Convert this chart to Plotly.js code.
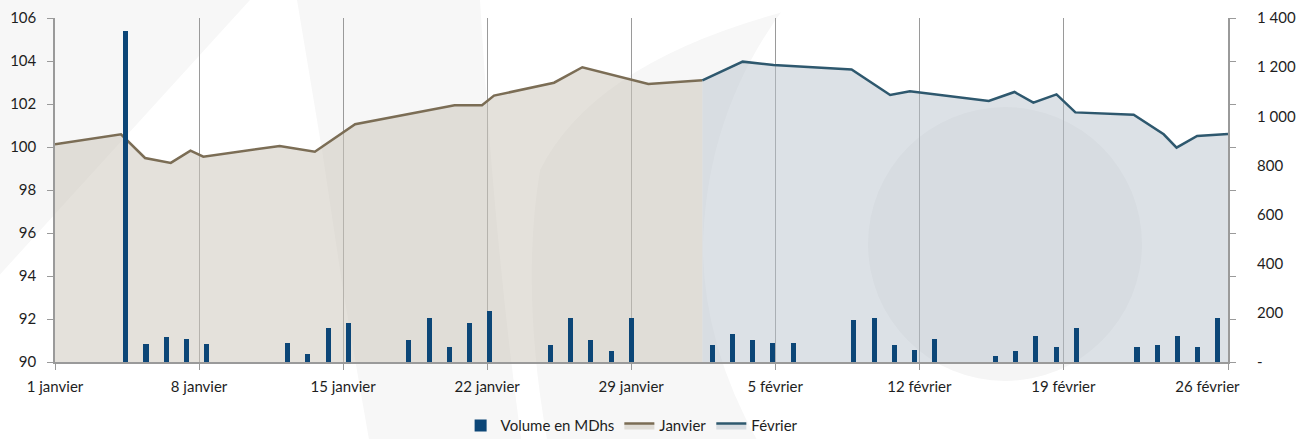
<!DOCTYPE html>
<html>
<head>
<meta charset="utf-8">
<script src="https://cdn.plot.ly/plotly-3.0.1.min.js"></script>
<style>html,body{margin:0;padding:0;background:#f7f7f7;overflow:hidden}</style>
</head>
<body>
<div id="chart" style="width:1311px;height:439px"></div>
<script>
// ---- Data ----
// Volume traded (MDhs), trading days
const volumeDates = [
  '2016-01-04','2016-01-05','2016-01-06','2016-01-07','2016-01-08',
  '2016-01-12','2016-01-13','2016-01-14','2016-01-15',
  '2016-01-18','2016-01-19','2016-01-20','2016-01-21','2016-01-22',
  '2016-01-25','2016-01-26','2016-01-27','2016-01-28','2016-01-29',
  '2016-02-01','2016-02-02','2016-02-03','2016-02-04','2016-02-05',
  '2016-02-08','2016-02-09','2016-02-10','2016-02-11','2016-02-12',
  '2016-02-15','2016-02-16','2016-02-17','2016-02-18','2016-02-19',
  '2016-02-22','2016-02-23','2016-02-24','2016-02-25','2016-02-26'
];
const volumeValues = [
  1347, 73, 102, 94, 73,
  77, 33, 138, 159,
  90, 179, 61, 159, 208,
  69, 179, 90, 45, 179,
  69, 114, 90, 77, 77,
  171, 179, 69, 49, 94,
  24, 45, 106, 61, 138,
  61, 69, 106, 61, 179
];
// Index, January
const janvierDates = [
  '2016-01-01 00:00','2016-01-04 05:00','2016-01-05 09:00','2016-01-06 15:00',
  '2016-01-07 14:00','2016-01-08 05:00','2016-01-11 22:00','2016-01-13 15:00',
  '2016-01-15 14:00','2016-01-20 10:00','2016-01-21 18:00','2016-01-22 08:00',
  '2016-01-25 06:00','2016-01-26 15:00','2016-01-29 20:00','2016-02-01 11:00'
];
const janvierValues = [
  100.13, 100.59, 99.49, 99.26,
  99.83, 99.55, 100.05, 99.78,
  101.06, 101.94, 101.94, 102.39,
  102.99, 103.71, 102.93, 103.10
];
// Index, February
const fevrierDates = [
  '2016-02-01 11:00','2016-02-03 10:00','2016-02-04 22:00','2016-02-08 17:00',
  '2016-02-10 14:00','2016-02-11 13:00','2016-02-15 09:00','2016-02-16 15:00',
  '2016-02-17 13:00','2016-02-18 16:00','2016-02-19 14:00','2016-02-22 10:00',
  '2016-02-23 21:00','2016-02-24 12:00','2016-02-25 12:00','2016-02-27 00:00'
];
const fevrierValues = [
  103.10, 103.97, 103.81, 103.61,
  102.42, 102.59, 102.14, 102.56,
  102.06, 102.45, 101.61, 101.50,
  100.59, 99.97, 100.51, 100.60
];
// Axis labels
const xTickDates = ['2016-01-01','2016-01-08','2016-01-15','2016-01-22','2016-01-29',
                    '2016-02-05','2016-02-12','2016-02-19','2016-02-26'];
const xTickLabels = ['1 janvier','8 janvier','15 janvier','22 janvier','29 janvier',
                     '5 février','12 février','19 février','26 février'];
const xGridDates = ['2016-01-01','2016-01-08','2016-01-15','2016-01-22','2016-01-29',
                    '2016-02-05','2016-02-12','2016-02-19','2016-02-27'];
const leftTickVals = [90, 92, 94, 96, 98, 100, 102, 104, 106];
const rightTickVals = [0, 200, 400, 600, 800, 1000, 1200, 1400];
const rightTickText = ['-', '200', '400', '600', '800', '1 000', '1 200', '1 400'];

// Category slots used by the volume bars (calendar days + month junction slot)
const volumeSlots = [];
for (let d = 1; d <= 31; d++) volumeSlots.push('2016-01-' + String(d).padStart(2, '0'));
volumeSlots.push('jonction');
for (let d = 1; d <= 26; d++) volumeSlots.push('2016-02-' + String(d).padStart(2, '0'));

// ---- Decorative background (pixel geometry -> paper coords) ----
const W = 1311, H = 439, L = 55, R = 1228, T = 18, B = 362;
function px(x) { return ((x - L) / (R - L)).toFixed(4); }
function py(y) { return ((B - y) / (B - T)).toFixed(4); }
function path(cmds) {
  return cmds.map(c => {
    const k = c[0], pts = [];
    for (let i = 1; i < c.length; i += 2) pts.push(px(c[i]) + ',' + py(c[i + 1]));
    return k + pts.join(' ');
  }).join(' ') + ' Z';
}
const shapes = [
  {type: 'path', xref: 'paper', yref: 'paper', layer: 'below', line: {width: 0}, fillcolor: '#ffffff',
   path: path([['M', 250, 0], ['L', 297, 0], ['L', 322, 150], ['L', 343, 290], ['L', 370, 445], ['L', -5, 445], ['L', -5, 280]])},
  {type: 'path', xref: 'paper', yref: 'paper', layer: 'below', line: {width: 0}, fillcolor: '#ffffff',
   path: path([['M', 480, 0], ['L', 833, 0], ['Q', 600, 50, 540, 170], ['Q', 520, 290, 548, 445], ['L', 522, 445], ['Q', 495, 250, 480, 0]])},
  {type: 'path', xref: 'paper', yref: 'paper', layer: 'below', line: {width: 0}, fillcolor: '#ffffff',
   path: path([['M', 790, 0], ['Q', 705, 110, 703, 250], ['Q', 705, 350, 760, 445], ['L', 1315, 445], ['L', 1315, 0]])},
  {type: 'circle', xref: 'paper', yref: 'paper', layer: 'below', line: {width: 0}, fillcolor: '#f5f5f5',
   x0: px(1005 - 137), x1: px(1005 + 137), y0: py(244 + 137), y1: py(244 - 137)}
];

const font = 'Lato, "Open Sans", sans-serif';

const traces = [
  {type: 'scatter', mode: 'lines', name: 'Janvier', x: janvierDates, y: janvierValues,
   xaxis: 'x', yaxis: 'y', fill: 'tozeroy', fillcolor: 'rgba(205,201,190,0.55)',
   line: {color: '#7b6d55', width: 2.5}, legendrank: 2},
  {type: 'scatter', mode: 'lines', name: 'Février', x: fevrierDates, y: fevrierValues,
   xaxis: 'x', yaxis: 'y', fill: 'tozeroy', fillcolor: 'rgba(185,196,205,0.5)',
   line: {color: '#2e586e', width: 2.5}, legendrank: 3},
  {type: 'bar', name: 'Volume en MDhs', x: volumeDates, y: volumeValues,
   xaxis: 'x2', yaxis: 'y2', width: 0.25, marker: {color: '#0c4677', line: {width: 0}}, legendrank: 1}
];

const layout = {
  width: W, height: H,
  margin: {l: L, r: W - R, t: T, b: H - B, pad: 0, autoexpand: false},
  paper_bgcolor: '#f7f7f7',
  plot_bgcolor: 'rgba(0,0,0,0)',
  font: {family: font, size: 15, color: '#1e1e1e'},
  showlegend: true,
  legend: {orientation: 'h', x: 0.492, xanchor: 'center', y: -0.137, yanchor: 'top',
           bgcolor: 'rgba(0,0,0,0)', font: {size: 15}, traceorder: 'normal', borderwidth: 0},
  shapes: shapes,
  bargap: 0,
  xaxis: {
    type: 'date', range: ['2016-01-01', '2016-02-27'], fixedrange: true,
    tickmode: 'array', tickvals: xTickDates, ticktext: xTickLabels,
    ticks: '', showgrid: false, zeroline: false,
    showline: true, linecolor: '#9a9a9a', linewidth: 1.5,
    ticklabelstandoff: 10,
    minor: {tickmode: 'array', tickvals: xGridDates, ticks: 'outside', ticklen: 6,
            tickcolor: '#9a9a9a', tickwidth: 1, showgrid: true, gridcolor: '#9a9a9a', gridwidth: 1}
  },
  xaxis2: {
    type: 'category', categoryorder: 'array', categoryarray: volumeSlots,
    range: [-0.5, volumeSlots.length - 0.5], overlaying: 'x', visible: false, fixedrange: true
  },
  yaxis: {
    range: [90, 106], tickmode: 'array', tickvals: leftTickVals,
    ticks: 'outside', ticklen: 6, tickcolor: '#9a9a9a', tickwidth: 1,
    showline: true, linecolor: '#9a9a9a', linewidth: 1.5, mirror: 'ticks',
    showgrid: false, zeroline: false, ticklabelstandoff: 8, fixedrange: true
  },
  yaxis2: {
    range: [0, 1400], overlaying: 'y', side: 'right', anchor: 'x',
    tickmode: 'array', tickvals: rightTickVals, ticktext: rightTickText,
    ticks: '', showline: false, showgrid: false, zeroline: false,
    ticklabelstandoff: 28, fixedrange: true
  }
};

Plotly.newPlot('chart', traces, layout, {displayModeBar: false, responsive: false});
</script>
</body>
</html>
